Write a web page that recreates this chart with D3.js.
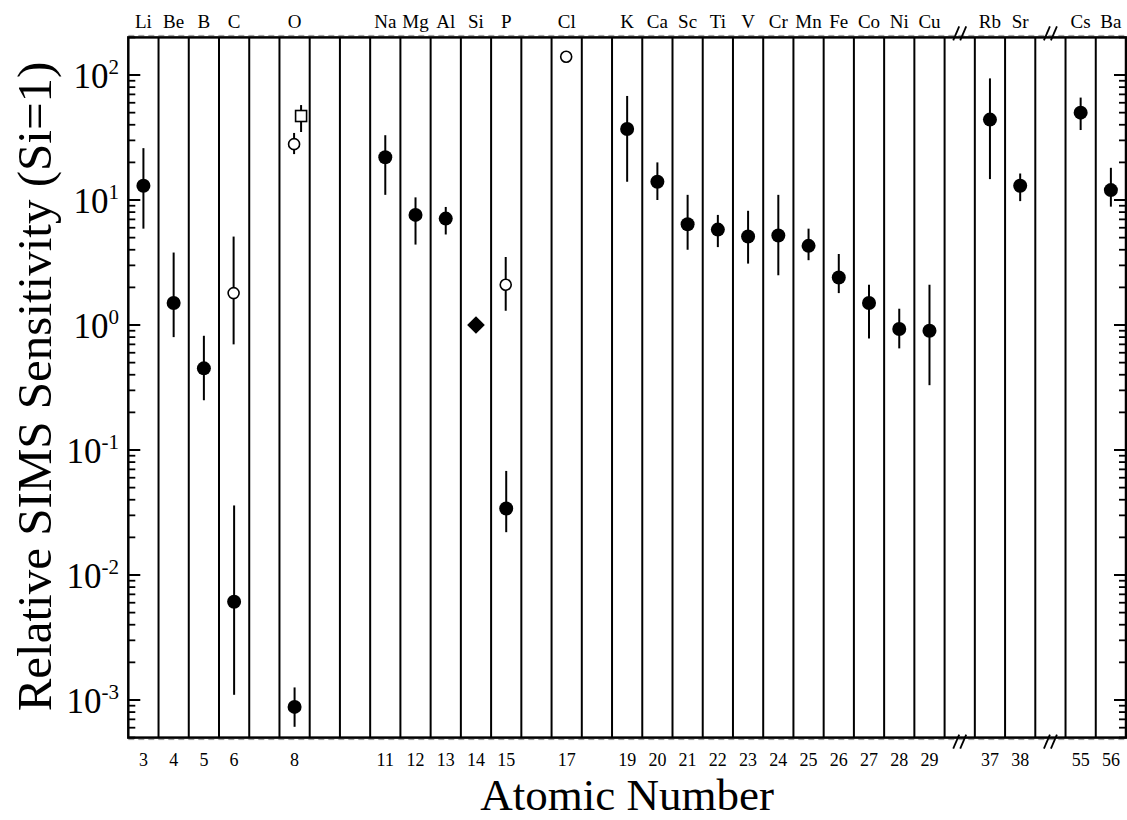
<!DOCTYPE html>
<html>
<head>
<meta charset="utf-8">
<script src="https://cdn.jsdelivr.net/npm/d3@7"></script>
<style>
  body { margin: 0; background: #fff; }
  svg text { font-family: "Liberation Serif", "DejaVu Serif", serif; fill: #000; }
</style>
</head>
<body>
<div id="chart"></div>
<script>
// column layout: atomic numbers, with two break columns
const columns = [3,4,5,6,7,8,9,10,11,12,13,14,15,16,17,18,19,20,21,22,23,24,25,26,27,28,29,"brk1",37,38,"brk2",55,56];
const breakCols = ["brk1", "brk2"];

// labelled elements (top) and their atomic numbers (bottom)
const symbols = ["Li","Be","B","C","O","Na","Mg","Al","Si","P","Cl","K","Ca","Sc","Ti","V","Cr","Mn","Fe","Co","Ni","Cu","Rb","Sr","Cs","Ba"];
const numbers = [3,4,5,6,8,11,12,13,14,15,17,19,20,21,22,23,24,25,26,27,28,29,37,38,55,56];

// filled circles
const filledZ  = [3, 4, 5, 6, 8, 11, 12, 13, 15, 19, 20, 21, 22, 23, 24, 25, 26, 27, 28, 29, 37, 38, 55, 56];
const filledV  = [13, 1.5, 0.45, 0.0061, 0.00088, 22, 7.6, 7.1, 0.034, 37, 14, 6.4, 5.8, 5.1, 5.2, 4.3, 2.4, 1.5, 0.93, 0.9, 44, 13, 50, 12];
const filledLo = [5.9, 0.8, 0.25, 0.0011, 0.00061, 11, 4.4, 5.3, 0.022, 14, 10, 4, 4.2, 3.1, 2.5, 3.3, 1.8, 0.78, 0.65, 0.33, 14.7, 9.8, 36.3, 8.85];
const filledHi = [26, 3.8, 0.82, 0.036, 0.00126, 33, 10.5, 8.8, 0.068, 68, 20, 11, 7.6, 8.2, 11, 5.9, 3.7, 2.1, 1.35, 2.1, 94, 16.3, 66, 18.1];

// open circles
const openZ  = [6, 8, 15, 17];
const openV  = [1.8, 28, 2.1, 140];
const openLo = [0.7, 23.3, 1.3, null];
const openHi = [5.1, 34.4, 3.5, null];

// open square (O) and filled diamond (Si reference)
const squareZ  = [8];
const squareV  = [47];
const squareLo = [35];
const squareHi = [57.5];
const diamondZ = [14];
const diamondV = [1];

const W = 1127, H = 820;
const margin = {left: 128.3, right: 1, top: 37.4, bottom: 82.4};
const serif = '"Liberation Serif", "DejaVu Serif", serif';

const svg = d3.select("#chart").append("svg")
    .attr("width", W).attr("height", H);

const x = d3.scaleBand()
    .domain(columns)
    .range([margin.left, W - margin.right]);
const y = d3.scaleLog()
    .domain([5e-4, 200])
    .range([H - margin.bottom, margin.top]);

const cx = (z) => x(z) + x.bandwidth() / 2;
const x0 = margin.left, x1 = W - margin.right;
const y0 = H - margin.bottom, y1 = margin.top;

// vertical separators between columns
svg.append("g").selectAll("line")
    .data(columns.slice(1))
    .enter().append("line")
    .attr("x1", (d) => x(d)).attr("x2", (d) => x(d))
    .attr("y1", y1).attr("y2", y0)
    .attr("stroke", "#000").attr("stroke-width", 2);

// log ticks, left and right, pointing inward
const majors = [1e-3, 1e-2, 1e-1, 1, 10, 100];
const minors = [];
[1e-4, 1e-3, 1e-2, 1e-1, 1, 10, 100].forEach((p) => {
    for (let k = 2; k <= 9; k++) {
        const v = p * k;
        if (v >= 5e-4 && v <= 200) minors.push(v);
    }
});
const tickG = svg.append("g");
[[x0, 1], [x1, -1]].forEach(([ax, dir]) => {
    tickG.selectAll(null).data(majors).enter().append("line")
        .attr("x1", ax).attr("x2", ax + dir * 12)
        .attr("y1", (d) => y(d)).attr("y2", (d) => y(d))
        .attr("stroke", "#000").attr("stroke-width", 2);
    tickG.selectAll(null).data(minors).enter().append("line")
        .attr("x1", ax).attr("x2", ax + dir * 7)
        .attr("y1", (d) => y(d)).attr("y2", (d) => y(d))
        .attr("stroke", "#000").attr("stroke-width", 1.8);
});

// y tick labels 10^n
const yl = svg.append("g").selectAll("text")
    .data(majors).enter().append("text")
    .attr("x", 119).attr("y", (d) => y(d) + 13)
    .attr("text-anchor", "end")
    .attr("font-family", serif)
    .style("font-size", "35px");
yl.append("tspan").text("10");
yl.append("tspan").attr("dy", -14).style("font-size", "21px")
    .text((d) => String(Math.round(Math.log10(d))));

// faint dashed rule just outside top and bottom
[y1 - 2, y0 + 2].forEach((yy) => {
    svg.append("line").attr("x1", x0).attr("x2", x1)
        .attr("y1", yy).attr("y2", yy)
        .attr("stroke", "#999").attr("stroke-width", 1)
        .attr("stroke-dasharray", "6,4");
});

// frame
svg.append("rect")
    .attr("x", x0).attr("y", y1)
    .attr("width", x1 - x0).attr("height", y0 - y1)
    .attr("fill", "none").attr("stroke", "#000").attr("stroke-width", 2.5);

// axis break marks
breakCols.forEach((b) => {
    [[y1, -4], [y0, 4]].forEach(([yy, off]) => {
        [-3.5, 3.5].forEach((dx) => {
            svg.append("line")
                .attr("x1", cx(b) + dx - 3).attr("y1", yy + off + 7)
                .attr("x2", cx(b) + dx + 3).attr("y2", yy + off - 7)
                .attr("stroke", "#000").attr("stroke-width", 1.8);
        });
    });
});

// top labels and bottom numbers
svg.append("g").selectAll("text").data(symbols).enter().append("text")
    .attr("x", (d, i) => cx(numbers[i])).attr("y", 28)
    .attr("text-anchor", "middle").attr("font-family", serif)
    .style("font-size", "19px")
    .text((d) => d);
svg.append("g").selectAll("text").data(numbers).enter().append("text")
    .attr("x", (d) => cx(d)).attr("y", 766)
    .attr("text-anchor", "middle").attr("font-family", serif)
    .style("font-size", "18px")
    .text((d) => d);

// axis titles
svg.append("text")
    .attr("x", (x0 + x1) / 2).attr("y", 810)
    .attr("text-anchor", "middle").attr("font-family", serif)
    .style("font-size", "45px")
    .text("Atomic Number");
svg.append("text")
    .attr("transform", `translate(51,${(y0 + y1) / 2 - 1}) rotate(-90)`)
    .attr("text-anchor", "middle").attr("font-family", serif)
    .style("font-size", "49px")
    .text("Relative SIMS Sensitivity (Si=1)");

// error bars
function bars(zs, lo, hi, dx) {
    svg.append("g").selectAll("line")
        .data(zs.map((z, i) => ({z: z, lo: lo[i], hi: hi[i]})).filter((d) => d.lo != null))
        .enter().append("line")
        .attr("x1", (d) => cx(d.z) + dx).attr("x2", (d) => cx(d.z) + dx)
        .attr("y1", (d) => y(d.lo)).attr("y2", (d) => y(d.hi))
        .attr("stroke", "#000").attr("stroke-width", 2);
}
bars(filledZ, filledLo, filledHi, 0);
bars(openZ, openLo, openHi, -0.5);
bars(squareZ, squareLo, squareHi, 6.5);

// markers
svg.append("g").selectAll("circle")
    .data(filledZ).enter().append("circle")
    .attr("cx", (d) => cx(d)).attr("cy", (d, i) => y(filledV[i]))
    .attr("r", 7).attr("fill", "#000");
svg.append("g").selectAll("circle")
    .data(openZ).enter().append("circle")
    .attr("cx", (d) => cx(d) - 0.5).attr("cy", (d, i) => y(openV[i]))
    .attr("r", 5.5).attr("fill", "#fff").attr("stroke", "#000").attr("stroke-width", 1.6);
svg.append("g").selectAll("rect")
    .data(squareZ).enter().append("rect")
    .attr("x", (d) => cx(d) + 6.5 - 5.5).attr("y", (d, i) => y(squareV[i]) - 5.5)
    .attr("width", 11).attr("height", 11)
    .attr("fill", "#fff").attr("stroke", "#000").attr("stroke-width", 1.6);
svg.append("g").selectAll("path")
    .data(diamondZ).enter().append("path")
    .attr("d", d3.symbol().type(d3.symbolDiamond2).size(200))
    .attr("transform", (d, i) => `translate(${cx(d)},${y(diamondV[i])})`)
    .attr("fill", "#000");
</script>
</body>
</html>
